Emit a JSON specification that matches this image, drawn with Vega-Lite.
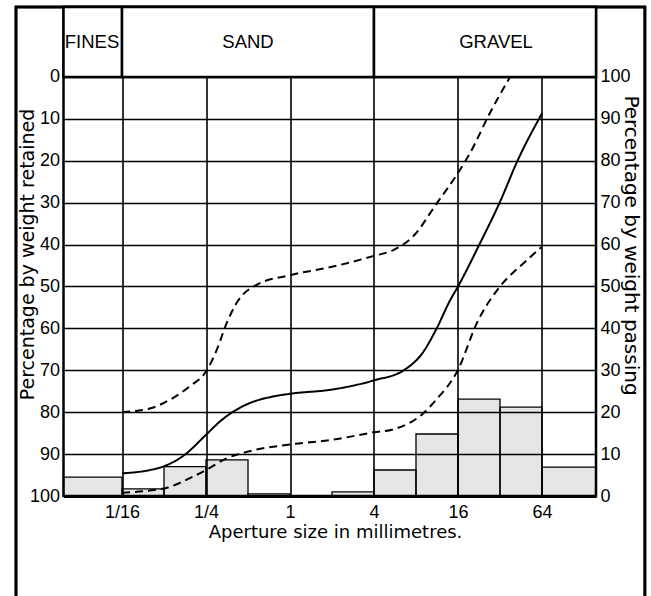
{
  "$schema": "https://vega.github.io/schema/vega-lite/v6.json",
  "width": 532.5,
  "height": 489,
  "autosize": "none",
  "padding": {"left": 63.5, "top": 7, "right": 55, "bottom": 100},
  "background": "white",
  "config": {
    "view": {"stroke": "black", "strokeWidth": 2.5},
    "axis": {
      "gridColor": "black", "gridOpacity": 1, "gridWidth": 1.6,
      "ticks": false, "tickSize": 0,
      "domainColor": "black", "labelColor": "black", "titleColor": "black",
      "labelFont": "Liberation Sans", "labelFontSize": 18,
      "titleFont": "DejaVu Sans", "titleFontSize": 19, "titleFontWeight": "normal"
    }
  },
  "datasets": {
    "hist": [
      {"from": 0.02379, "to": 0.0625, "percent": 4.5},
      {"from": 0.0625, "to": 0.125, "percent": 1.7},
      {"from": 0.125, "to": 0.25, "percent": 7},
      {"from": 0.25, "to": 0.5, "percent": 8.6},
      {"from": 0.5, "to": 1, "percent": 0.5},
      {"from": 2, "to": 4, "percent": 1},
      {"from": 4, "to": 8, "percent": 6.2},
      {"from": 8, "to": 16, "percent": 14.8},
      {"from": 16, "to": 32, "percent": 23.1},
      {"from": 32, "to": 64, "percent": 21.2},
      {"from": 64, "to": 156.1, "percent": 6.9}
    ],
    "curves": [
      {"curve": "median", "mm": 0.0625, "passing": 5.4},
      {"curve": "median", "mm": 0.0992, "passing": 6.2},
      {"curve": "median", "mm": 0.125, "passing": 7.1},
      {"curve": "median", "mm": 0.172, "passing": 9.6},
      {"curve": "median", "mm": 0.25, "passing": 14.6},
      {"curve": "median", "mm": 0.315, "passing": 17.8},
      {"curve": "median", "mm": 0.404, "passing": 20.4},
      {"curve": "median", "mm": 0.517, "passing": 22.2},
      {"curve": "median", "mm": 0.72, "passing": 23.6},
      {"curve": "median", "mm": 1, "passing": 24.4},
      {"curve": "median", "mm": 2, "passing": 25.4},
      {"curve": "median", "mm": 4, "passing": 27.6},
      {"curve": "median", "mm": 6.6, "passing": 30.1},
      {"curve": "median", "mm": 8.9, "passing": 34.1},
      {"curve": "median", "mm": 11.1, "passing": 39.6},
      {"curve": "median", "mm": 14.1, "passing": 46.8},
      {"curve": "median", "mm": 16, "passing": 50},
      {"curve": "median", "mm": 23, "passing": 60.3},
      {"curve": "median", "mm": 32, "passing": 70.2},
      {"curve": "median", "mm": 43, "passing": 80.2},
      {"curve": "median", "mm": 64, "passing": 91.3},
      {"curve": "upper", "mm": 0.0625, "passing": 20},
      {"curve": "upper", "mm": 0.0992, "passing": 20.9},
      {"curve": "upper", "mm": 0.14, "passing": 23.1},
      {"curve": "upper", "mm": 0.19, "passing": 26.1},
      {"curve": "upper", "mm": 0.25, "passing": 29.7},
      {"curve": "upper", "mm": 0.298, "passing": 34.8},
      {"curve": "upper", "mm": 0.352, "passing": 41.3},
      {"curve": "upper", "mm": 0.415, "passing": 46.1},
      {"curve": "upper", "mm": 0.576, "passing": 50.4},
      {"curve": "upper", "mm": 1, "passing": 52.7},
      {"curve": "upper", "mm": 2, "passing": 54.7},
      {"curve": "upper", "mm": 4, "passing": 57.3},
      {"curve": "upper", "mm": 5.5, "passing": 58.7},
      {"curve": "upper", "mm": 7.6, "passing": 61.9},
      {"curve": "upper", "mm": 11.3, "passing": 69.9},
      {"curve": "upper", "mm": 16, "passing": 77.1},
      {"curve": "upper", "mm": 19.5, "passing": 81.8},
      {"curve": "upper", "mm": 27, "passing": 91.3},
      {"curve": "upper", "mm": 37.8, "passing": 100},
      {"curve": "lower", "mm": 0.0625, "passing": 0.8},
      {"curve": "lower", "mm": 0.125, "passing": 1.8},
      {"curve": "lower", "mm": 0.19, "passing": 4.2},
      {"curve": "lower", "mm": 0.25, "passing": 6.2},
      {"curve": "lower", "mm": 0.352, "passing": 9.0},
      {"curve": "lower", "mm": 0.5, "passing": 10.6},
      {"curve": "lower", "mm": 1, "passing": 12.3},
      {"curve": "lower", "mm": 2, "passing": 13.4},
      {"curve": "lower", "mm": 4, "passing": 15.2},
      {"curve": "lower", "mm": 5.5, "passing": 15.9},
      {"curve": "lower", "mm": 9, "passing": 19.7},
      {"curve": "lower", "mm": 11.1, "passing": 22.9},
      {"curve": "lower", "mm": 16, "passing": 30.1},
      {"curve": "lower", "mm": 21.8, "passing": 41.2},
      {"curve": "lower", "mm": 32, "passing": 50},
      {"curve": "lower", "mm": 47, "passing": 55.5},
      {"curve": "lower", "mm": 64, "passing": 59.5}
    ],
    "zones": [
      {"zone": "FINES", "from": 0.02379, "to": 0.0625, "labelAt": 0.0381},
      {"zone": "SAND", "from": 0.0625, "to": 4, "labelAt": 0.5},
      {"zone": "GRAVEL", "from": 4, "to": 156.1, "labelAt": 30}
    ]
  },
  "resolve": {"axis": {"y": "independent"}},
  "layer": [
    {
      "data": {"name": "zones"},
      "mark": {"type": "rect", "fillOpacity": 0, "stroke": "black", "strokeWidth": 2.5},
      "encoding": {
        "x": {"datum": 0.01086, "type": "quantitative", "scale": {"type": "log", "domain": [0.02379, 156.1], "nice": false},
          "axis": {"values": [0.0625, 0.25, 1, 4, 16, 64], "labelExpr": "datum.value == 0.0625 ? '1/16' : datum.value == 0.25 ? '1/4' : '' + datum.value", "title": "Aperture size in millimetres.", "grid": true, "domain": true, "domainWidth": 3, "labelPadding": 21, "labelBaseline": "alphabetic", "titleFontSize": 18, "titleX": 271.5, "titleY": 41.5, "titleBaseline": "alphabetic", "titleAlign": "center"}},
        "x2": {"datum": 350},
        "y": {"datum": 116.7, "type": "quantitative", "scale": {"domain": [0, 116.7], "nice": false, "zero": false}, "axis": null},
        "y2": {"datum": -30}
      }
    },
    {
      "data": {"name": "hist"},
      "mark": {"type": "rect", "fill": "black", "fillOpacity": 0.1, "stroke": "black", "strokeWidth": 1.3},
      "encoding": {
        "x": {"field": "from", "type": "quantitative", "scale": {"type": "log", "domain": [0.02379, 156.1], "nice": false},
          "axis": {"values": [0.0625, 0.25, 1, 4, 16, 64], "labelExpr": "datum.value == 0.0625 ? '1/16' : datum.value == 0.25 ? '1/4' : '' + datum.value", "title": "Aperture size in millimetres.", "grid": true, "domain": true, "domainWidth": 3, "labelPadding": 21, "labelBaseline": "alphabetic", "titleFontSize": 18, "titleX": 271.5, "titleY": 41.5, "titleBaseline": "alphabetic", "titleAlign": "center"}},
        "x2": {"field": "to"},
        "y": {
          "field": "percent", "type": "quantitative",
          "scale": {"domain": [0, 116.7], "nice": false, "zero": false},
          "axis": {
            "orient": "left",
            "values": [0, 10, 20, 30, 40, 50, 60, 70, 80, 90, 100],
            "labelExpr": "'' + (100 - datum.value)",
            "title": "Percentage by weight retained",
            "grid": true, "domain": false, "labelPadding": 4,
            "titleAngle": -90, "titleX": -30.5, "titleY": 247,
            "titleBaseline": "alphabetic", "titleAlign": "center"
          }
        },
        "y2": {"datum": 0}
      }
    },
    {
      "data": {"name": "curves"},
      "mark": {"type": "line", "interpolate": "monotone", "stroke": "black", "strokeWidth": 2},
      "encoding": {
        "x": {"field": "mm", "type": "quantitative", "scale": {"type": "log", "domain": [0.02379, 156.1], "nice": false},
          "axis": {"values": [0.0625, 0.25, 1, 4, 16, 64], "labelExpr": "datum.value == 0.0625 ? '1/16' : datum.value == 0.25 ? '1/4' : '' + datum.value", "title": "Aperture size in millimetres.", "grid": true, "domain": true, "domainWidth": 3, "labelPadding": 21, "labelBaseline": "alphabetic", "titleFontSize": 18, "titleX": 271.5, "titleY": 41.5, "titleBaseline": "alphabetic", "titleAlign": "center"}},
        "y": {
          "field": "passing", "type": "quantitative",
          "scale": {"domain": [0, 116.7], "nice": false, "zero": false},
          "axis": {
            "orient": "right",
            "values": [0, 10, 20, 30, 40, 50, 60, 70, 80, 90, 100],
            "title": "Percentage by weight passing",
            "grid": false, "domain": false, "labelPadding": 4,
            "titleFontSize": 20,
            "titleAngle": 90, "titleX": 28, "titleY": 238,
            "titleBaseline": "alphabetic", "titleAlign": "center"
          }
        },
        "detail": {"field": "curve"},
        "strokeDash": {
          "field": "curve", "type": "nominal",
          "scale": {"domain": ["median", "upper", "lower"], "range": [[1, 0], [8, 5], [8, 5]]},
          "legend": null
        }
      }
    },
    {
      "data": {"name": "zones"},
      "mark": {"type": "rect", "fill": "white", "stroke": "black", "strokeWidth": 2.5},
      "encoding": {
        "x": {"field": "from", "type": "quantitative", "scale": {"type": "log", "domain": [0.02379, 156.1], "nice": false},
          "axis": {"values": [0.0625, 0.25, 1, 4, 16, 64], "labelExpr": "datum.value == 0.0625 ? '1/16' : datum.value == 0.25 ? '1/4' : '' + datum.value", "title": "Aperture size in millimetres.", "grid": true, "domain": true, "domainWidth": 3, "labelPadding": 21, "labelBaseline": "alphabetic", "titleFontSize": 18, "titleX": 271.5, "titleY": 41.5, "titleBaseline": "alphabetic", "titleAlign": "center"}},
        "x2": {"field": "to"},
        "y": {"datum": 100, "type": "quantitative", "scale": {"domain": [0, 116.7], "nice": false, "zero": false}, "axis": null},
        "y2": {"datum": 116.7}
      }
    },
    {
      "data": {"name": "zones"},
      "mark": {"type": "text", "font": "Liberation Sans", "fontSize": 18.5, "baseline": "middle", "align": "center", "color": "black"},
      "encoding": {
        "x": {"field": "labelAt", "type": "quantitative", "scale": {"type": "log", "domain": [0.02379, 156.1], "nice": false},
          "axis": {"values": [0.0625, 0.25, 1, 4, 16, 64], "labelExpr": "datum.value == 0.0625 ? '1/16' : datum.value == 0.25 ? '1/4' : '' + datum.value", "title": "Aperture size in millimetres.", "grid": true, "domain": true, "domainWidth": 3, "labelPadding": 21, "labelBaseline": "alphabetic", "titleFontSize": 18, "titleX": 271.5, "titleY": 41.5, "titleBaseline": "alphabetic", "titleAlign": "center"}},
        "y": {"datum": 108.35, "type": "quantitative", "scale": {"domain": [0, 116.7], "nice": false, "zero": false}, "axis": null},
        "text": {"field": "zone"}
      }
    }
  ]
}
